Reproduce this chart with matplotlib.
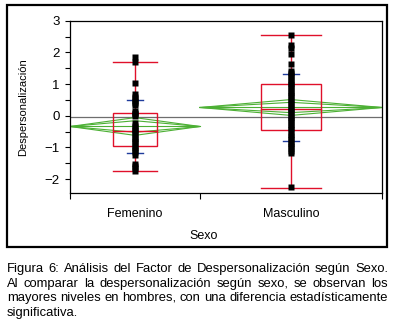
import matplotlib
matplotlib.use("Agg")
import matplotlib.pyplot as plt
import matplotlib.patches as mpatches
import numpy as np

plt.rcParams['font.family'] = ['Liberation Sans', 'DejaVu Sans']

# grupos y tamaños relativos (ancho en el eje x proporcional a n)
grupos = ["Femenino", "Masculino"]
pesos = [5, 7]

# cuantiles
q_max = [1.69, 2.55]
q3 = [0.10, 0.99]
mediana = [-0.48, 0.21]
q1 = [-0.94, -0.46]
q_min = [-1.73, -2.29]

medias = [-0.34, 0.26]
ic95 = [0.28, 0.25]
desv = [0.83, 1.06]
media_global = -0.03

fem_vals = [1.85, 1.69, 1.02, 0.70, 0.58, 0.52, 0.46, 0.40, 0.34, 0.16, 0.10,
            0.05, 0.00, -0.24, -0.31, -0.38, -0.45, -0.52, -0.59, -0.66,
            -0.73, -0.80, -0.87, -0.94, -1.01, -1.08, -1.14, -1.24, -1.52,
            -1.58, -1.66, -1.73]
masc_vals = [2.55, 2.23, 2.15, 1.96, 1.63, 1.42, 1.35, 1.28, 1.21, 1.14, 1.07,
             1.00, 0.93, 0.86, 0.78, 0.72, 0.65, 0.58, 0.51, 0.43, 0.36, 0.29,
             0.22, 0.15, 0.08, 0.00, -0.07, -0.14, -0.21, -0.28, -0.35, -0.42,
             -0.50, -0.60, -0.67, -0.74, -0.82, -0.89, -0.96, -1.03, -1.10,
             -1.17, -2.25]
valores = [fem_vals, masc_vals]

lineas = [
    "Figura 6: Análisis del Factor de Despersonalización según Sexo.",
    "Al comparar la despersonalización según sexo, se observan los",
    "mayores niveles en hombres, con una diferencia estadísticamente",
    "significativa.",
]

W, H = 398, 323
fig = plt.figure(figsize=(W / 100, H / 100), dpi=100)
ax = fig.add_axes([70 / W, 1 - 192.7 / H, 312 / W, 172 / H])

rojo = '#e0102a'
verde = '#4cb034'
azul = '#1f3c9c'

bordes = np.concatenate([[0], np.cumsum(pesos)]) / sum(pesos)
centros = (bordes[:-1] + bordes[1:]) / 2

ax.axhline(media_global, color='#6e6e6e', lw=0.9, zorder=1)

for i in range(len(grupos)):
    x0, x1 = bordes[i], bordes[i + 1]
    c = centros[i]
    w = x1 - x0
    bw = w / 3
    m = medias[i]
    # diamantes de medias
    for f in [1.0, 0.65]:
        h = ic95[i] * f
        ax.plot([x0, c, x1, c, x0], [m, m + h, m, m - h, m], color=verde,
                lw=0.8, zorder=2)
    ax.plot([x0, x1], [m, m], color=verde, lw=0.8, zorder=2)
    # caja
    ax.add_patch(mpatches.Rectangle((c - bw / 2, q1[i]), bw, q3[i] - q1[i],
                                    fill=False, ec=rojo, lw=1.0, zorder=3))
    ax.plot([c - bw / 2, c + bw / 2], [mediana[i]] * 2, color=rojo, lw=1.0, zorder=3)
    ax.plot([c, c], [q3[i], q_max[i]], color=rojo, lw=1.0, zorder=3)
    ax.plot([c, c], [q1[i], q_min[i]], color=rojo, lw=1.0, zorder=3)
    ax.plot([c - bw / 2, c + bw / 2], [q_max[i]] * 2, color=rojo, lw=1.0, zorder=3)
    ax.plot([c - bw / 2, c + bw / 2], [q_min[i]] * 2, color=rojo, lw=1.0, zorder=3)
    # desviacion estandar
    for s in [1, -1]:
        ax.plot([c - 0.026, c + 0.026], [m + s * desv[i]] * 2, color=azul,
                lw=1.0, zorder=3)
    # puntos
    ax.plot([c] * len(valores[i]), valores[i], 's', color='black',
            ms=4.0, mec='none', zorder=4)

ax.set_xlim(0, 1)
ax.set_ylim(-2.43, 3)
ax.set_yticks([-2, -1, 0, 1, 2, 3])
ax.set_yticks(np.arange(-2, 3.01, 0.5), minor=True)
ax.tick_params(axis='y', which='both', direction='out', length=3.5, width=0.8,
               labelsize=9.5, pad=4)
ax.set_xticks(bordes)
ax.set_xticklabels([])
ax.tick_params(axis='x', which='major', direction='out', length=4.5, width=0.8)
ax.set_xticks(centros, minor=True)
ax.set_xticklabels(grupos, minor=True, fontsize=9)
ax.tick_params(axis='x', which='minor', length=0, pad=11)
for sp in ax.spines.values():
    sp.set_linewidth(0.9)

fig.text(23 / W, 1 - 107 / H, "Despersonalización", rotation=90,
         ha='center', va='center', fontsize=8)
fig.text(204 / W, 1 - 236 / H, "Sexo", ha='center', va='center', fontsize=9)

# marco exterior
fig.add_artist(mpatches.Rectangle((7 / W, 1 - 246.5 / H), 380 / W, 241.5 / H,
                                  transform=fig.transFigure, fill=False,
                                  ec='black', lw=1.6))

# leyenda justificada
renderer = fig.canvas.get_renderer()
x_izq, x_der = 7, 388
bases = [272, 287, 301, 316]
for k, linea in enumerate(lineas):
    palabras = linea.split(" ")
    yb = 1 - bases[k] / H
    if k == len(lineas) - 1:
        fig.text(x_izq / W, yb, linea, fontsize=9.4, va='baseline', ha='left')
        continue
    objs = [fig.text(0, yb, p, fontsize=9.4, va='baseline', ha='left')
            for p in palabras]
    anchos = [o.get_window_extent(renderer).width for o in objs]
    hueco = (x_der - x_izq - sum(anchos)) / (len(palabras) - 1)
    x = x_izq
    for o, a in zip(objs, anchos):
        o.set_x(x / W)
        x += a + hueco

fig.savefig("out.png", dpi=100)
